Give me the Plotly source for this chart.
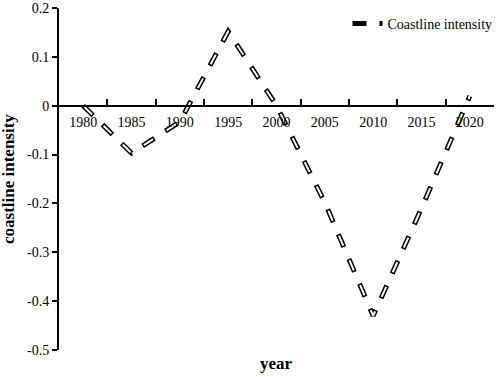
import plotly.graph_objects as go

years = ["1980", "1985", "1990", "1995", "2000", "2005", "2010", "2015", "2020"]
intensity = [0.0, -0.097, -0.033, 0.152, 0.0, -0.198, -0.43, -0.21, 0.02]
y_ticks = [0.2, 0.1, 0.0, -0.1, -0.2, -0.3, -0.4, -0.5]
y_tick_labels = ["0.2", "0.1", "0", "-0.1", "-0.2", "-0.3", "-0.4", "-0.5"]
series_name = "Coastline intensity"

y_min, y_max = -0.5, 0.2
FONT = "Liberation Serif, Times New Roman, serif"

fig = go.Figure()
fig.add_trace(go.Scatter(
    x=years, y=intensity, mode="lines", name=series_name,
    line=dict(color="black", width=5, dash="14px,13px"),
    showlegend=True,
))
fig.add_trace(go.Scatter(
    x=years, y=intensity, mode="lines", name=series_name,
    line=dict(color="white", width=2, dash="0px,1.5px,11px,14.5px"),
    showlegend=False, hoverinfo="skip",
))

fig.update_layout(
    width=498, height=377,
    margin=dict(l=59, r=4, t=8, b=27, autoexpand=False),
    paper_bgcolor="white", plot_bgcolor="white",
    font=dict(family=FONT, size=14, color="black"),
    legend=dict(x=1.008, xanchor="right", y=1.0, yanchor="top",
                font=dict(family=FONT, size=14, color="black"),
                bgcolor="rgba(0,0,0,0)"),
    xaxis=dict(
        type="category", anchor="free",
        range=[-0.5, len(years) - 0.5],
        position=(0 - y_min) / (y_max - y_min),
        showline=True, linecolor="black", linewidth=2,
        ticks="inside", tickson="boundaries", ticklen=6, tickwidth=2, tickcolor="black",
        showgrid=False, zeroline=False, automargin=False,
        ticklabelstandoff=3,
        tickfont=dict(family=FONT, size=14, color="black"),
    ),
    yaxis=dict(
        range=[y_min, y_max],
        tickvals=y_ticks, ticktext=y_tick_labels,
        showline=True, linecolor="black", linewidth=2,
        ticks="outside", ticklen=5, tickwidth=2, tickcolor="black",
        showgrid=False, zeroline=False, automargin=False,
        tickfont=dict(family=FONT, size=14, color="black"),
    ),
    annotations=[
        dict(text="<b>coastline intensity</b>", textangle=-90,
             xref="paper", yref="paper", x=(8 - 59) / 435, y=0.5,
             xanchor="center", yanchor="middle", showarrow=False,
             font=dict(family=FONT, size=17, color="black")),
        dict(text="<b>year</b>",
             xref="paper", yref="paper", x=0.5, y=0, yshift=-13,
             xanchor="center", yanchor="middle", showarrow=False,
             font=dict(family=FONT, size=17, color="black")),
    ],
)

fig.write_html("out.html", config={"displayModeBar": False},
               post_script="document.body.style.margin='0';document.body.style.overflow='hidden';")
